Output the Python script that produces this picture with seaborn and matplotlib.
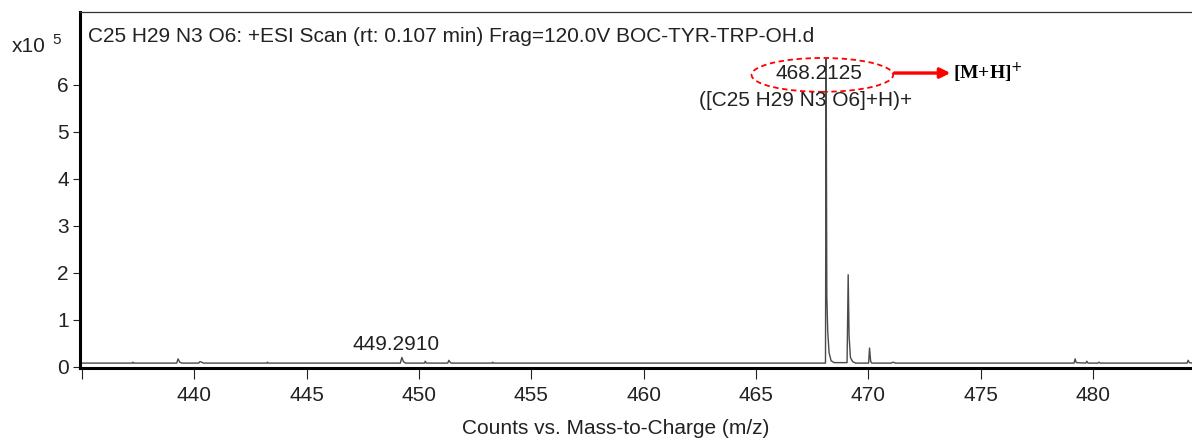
import numpy as np
import pandas as pd
import seaborn as sns
import matplotlib
matplotlib.use("Agg")
import matplotlib.pyplot as plt
from matplotlib.patches import Ellipse

# ---- data, intensity in units of 1e5 counts ----
mz = [434.91,
      437.24, 437.27, 437.30,
      439.22, 439.28, 439.35, 439.45,
      440.20, 440.25, 440.33, 440.40,
      443.23, 443.26, 443.29,
      449.17, 449.24, 449.31, 449.40,
      450.25, 450.28, 450.33,
      451.28, 451.33, 451.40, 451.45,
      453.25, 453.28, 453.31,
      468.09, 468.12, 468.15, 468.19, 468.25, 468.34, 468.47,
      469.05, 469.10, 469.14, 469.20, 469.30, 469.43,
      470.01, 470.05, 470.10, 470.15,
      471.02, 471.10, 471.20,
      479.15, 479.20, 479.25, 479.67, 479.72, 479.77,
      480.21, 480.26, 480.31,
      484.18, 484.23, 484.28,
      484.40]
intensity = [0.08,
             0.08, 0.10, 0.08,
             0.08, 0.17, 0.10, 0.08,
             0.08, 0.11, 0.10, 0.08,
             0.08, 0.10, 0.08,
             0.08, 0.20, 0.11, 0.08,
             0.08, 0.12, 0.08,
             0.08, 0.14, 0.09, 0.08,
             0.08, 0.10, 0.08,
             0.08, 6.55, 1.50, 0.75, 0.30, 0.13, 0.09,
             0.09, 1.96, 0.65, 0.20, 0.11, 0.08,
             0.08, 0.40, 0.12, 0.08,
             0.08, 0.10, 0.08,
             0.08, 0.17, 0.09, 0.08, 0.12, 0.08,
             0.08, 0.10, 0.08,
             0.08, 0.14, 0.09,
             0.08]
x_ticks = [435, 440, 445, 450, 455, 460, 465, 470, 475, 480]
x_ticklabels = ["", "440", "445", "450", "455", "460", "465", "470", "475", "480"]
y_ticks = [0, 1, 2, 3, 4, 5, 6]
title = "C25 H29 N3 O6: +ESI Scan (rt: 0.107 min) Frag=120.0V BOC-TYR-TRP-OH.d"
main_label = "468.2125"
main_formula = "([C25 H29 N3 O6]+H)+"
minor_label = "449.2910"
xlabel = "Counts vs. Mass-to-Charge (m/z)"

df = pd.DataFrame({"mz": mz, "intensity": intensity})

sns.set_theme(style="white")
plt.rcParams["font.family"] = ["Liberation Sans", "DejaVu Sans"]

FS = 15

fig = plt.figure(figsize=(11.92, 4.41), dpi=100)
ax = fig.add_axes([0.067, 0.166, 0.933, 0.807])

sns.lineplot(data=df, x="mz", y="intensity", ax=ax, color="#4a4a4a",
             linewidth=1.0, estimator=None, sort=True)

ax.set_xlim(434.91, 484.40)
ax.set_ylim(-0.02, 7.55)
ax.set_xticks(x_ticks)
ax.set_xticklabels(x_ticklabels)
ax.set_yticks(y_ticks)
ax.tick_params(axis="both", labelsize=FS, colors="#222222", direction="out",
               bottom=True, left=True, width=0.8)
ax.tick_params(axis="x", length=8, pad=5)
ax.tick_params(axis="y", length=5, pad=3)
for lab in ax.get_xticklabels() + ax.get_yticklabels():
    lab.set_color("#222222")

for s in ["left", "bottom"]:
    ax.spines[s].set_linewidth(2.2)
    ax.spines[s].set_color("black")
ax.spines["top"].set_linewidth(0.9)
ax.spines["top"].set_color("#333333")
ax.spines["right"].set_visible(False)

ax.set_xlabel(xlabel, fontsize=FS, color="#222222", labelpad=10)
ax.xaxis.label.set_x(0.482)
ax.set_ylabel("")

ax.text(0.007, 0.93, title, transform=ax.transAxes, fontsize=FS,
        color="#222222", ha="left", va="center")
fig.text(0.010, 0.895, "x10", fontsize=FS, color="#222222", ha="left", va="center")
fig.text(0.044, 0.91, "5", fontsize=11, color="#222222", ha="left", va="center")

ax.text(467.8, 6.25, main_label, fontsize=FS, color="#222222", ha="center", va="center")
ax.text(467.2, 5.67, main_formula, fontsize=FS, color="#222222", ha="center", va="center")
ax.text(449.0, 0.48, minor_label, fontsize=FS, color="#222222", ha="center", va="center")

ell = Ellipse((467.95, 6.21), width=6.3, height=0.72, fill=False,
              edgecolor="red", linestyle=(0, (3, 2)), linewidth=1.3)
ax.add_patch(ell)
ax.annotate("", xy=(473.65, 6.25), xytext=(471.15, 6.25),
            arrowprops=dict(arrowstyle="-|>", color="red", lw=2.4,
                            mutation_scale=15, shrinkA=0, shrinkB=0))
ax.text(473.75, 6.25, r"[M+H]$^{+}$", fontsize=14, fontweight="bold",
        family=["Liberation Serif", "DejaVu Serif"], color="black",
        ha="left", va="center")

fig.savefig("out.png", dpi=100)
